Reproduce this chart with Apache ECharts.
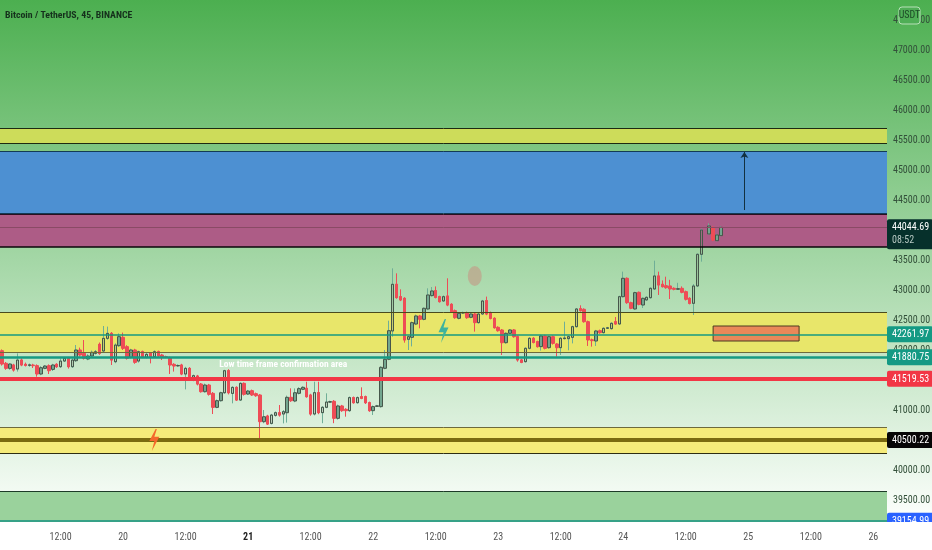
<!DOCTYPE html>
<html><head><meta charset="utf-8">
<style>html,body{margin:0;padding:0;background:#fff}#c{width:932px;height:550px}</style>
<script src="https://cdn.jsdelivr.net/npm/echarts@6/dist/echarts.min.js"></script>
</head><body><div id="c"></div>
<script>
const tickLabels=['12:00','20','12:00','21','12:00','22','12:00','23','12:00','24','12:00','25','12:00','26'];
const opens=[41988,41778,41694,41750,41683,41833,41761,41745,41750,41739,41600,41694,41739,41677,41761,41722,41816,41861,41722,41822,42000,41944,41850,41900,41944,42094,41983,42194,42277,41805,42072,42211,42055,41877,42000,41816,41972,41877,41944,41888,41972,41916,41888,41872,41761,41735,41750,41600,41694,41500,41566,41433,41305,41416,41277,41044,41155,41288,41655,41277,41377,41166,41444,41266,41322,41272,41250,40805,40899,40777,40911,40955,40933,40955,41211,41150,41278,41345,41361,41250,40933,41289,40956,41045,41130,41145,40861,41067,41011,40989,41206,41122,41222,41222,41122,40989,41060,41056,41695,41845,42317,43095,42889,42861,42178,42211,42433,42567,42511,42684,42906,42989,42889,42817,42900,42761,42656,42528,42615,42622,42545,42600,42456,42600,42822,42622,42528,42378,42333,42122,42278,42334,42222,41834,41806,42028,42195,42139,42056,42234,42039,42222,42100,42039,42190,42189,42211,42389,42689,42678,42472,42170,42150,42322,42289,42362,42356,42472,42434,42889,43195,42789,42684,42961,42750,42834,42872,43017,43234,43095,43072,43067,43028,43012,43028,42972,42861,42778,43067,43595,null,43934,44045,43822,43906];
const closes=[41766,41694,41766,41666,41833,41750,41744,41752,41739,41600,41705,41733,41655,41750,41722,41816,41861,41722,41833,42000,41916,41861,41900,41961,41972,41944,42194,42277,41833,42083,42222,42027,41861,42000,41794,41972,41888,41927,41877,41972,41900,41877,41877,41750,41733,41742,41600,41694,41511,41572,41433,41305,41416,41261,41044,41155,41288,41655,41288,41377,41166,41444,41261,41316,41250,41238,40805,40888,40766,40916,40955,40916,40972,41211,41155,41288,41356,41378,41222,40933,41289,40956,41045,41133,41140,40861,41067,40989,40989,41206,41122,41206,41195,41122,40989,41056,41070,41711,41845,42322,43095,42873,42834,42167,42222,42456,42567,42511,42695,42917,42984,42878,42806,42889,42750,42639,42539,42611,42625,42539,42600,42456,42600,42817,42600,42528,42372,42322,42122,42278,42334,42222,41834,41795,42028,42195,42128,42056,42234,42028,42222,42111,42039,42195,42200,42222,42389,42684,42656,42472,42167,42156,42317,42289,42361,42370,42445,42434,42889,43195,42789,42695,42956,42761,42861,42878,43028,43234,43084,43056,43039,43017,43011,43022,42961,42845,42778,43067,43595,44000,null,44067,43834,43917,44045];
const lows=[41740,41670,41670,41640,41640,41730,41725,41720,41700,41555,41580,41680,41600,41650,41700,41700,41800,41690,41700,41800,41890,41840,41830,41880,41925,41920,41960,42170,41750,41780,42050,42000,41840,41860,41770,41790,41865,41860,41777,41870,41885,41833,41865,41600,41640,41720,41580,41344,41490,41480,41410,41290,41290,41240,40933,41030,41140,41270,41260,41111,41150,41150,41240,41250,41235,41220,40527,40780,40750,40760,40890,40890,40777,40790,41135,41130,41260,41330,41205,40905,40910,40930,40780,41030,41120,40780,40840,40970,40889,40970,41105,41105,41180,41100,40970,40917,41050,41040,41680,41830,42222,42855,42815,42122,42000,42060,42415,42361,42495,42665,42890,42860,42790,42800,42730,42620,42520,42510,42600,42520,42530,42306,42440,42585,42580,42510,42355,42305,41917,42105,42265,42205,41805,41780,41790,42010,42110,42040,41990,42010,42020,42090,41889,41917,42175,41995,42110,42375,42640,42455,42067,42056,42067,42270,42275,42350,42340,42420,42420,42875,42770,42680,42670,42745,42700,42820,42855,43000,42917,43040,43020,42850,42995,43000,42945,42825,42760,42584,43050,43472,null,43920,43815,43810,43895];
const highs=[42010,41800,41780,41770,41944,41860,41790,41775,41770,41760,41730,41750,41760,41770,41780,41860,41885,41885,41860,42083,42040,42166,41930,41990,42000,42125,42400,42390,42300,42110,42277,42290,42080,42020,42020,41990,41990,41950,41965,41995,41990,41935,41905,41890,41780,41760,41770,41720,41715,41590,41585,41450,41440,41435,41300,41175,41305,41670,41680,41395,41395,41460,41460,41335,41340,41290,41265,41000,40920,40935,40975,41083,41000,41240,41361,41360,41380,41395,41472,41270,41472,41472,41065,41278,41155,41165,41090,41085,41030,41225,41225,41225,41378,41240,41140,41075,41085,41730,42000,42489,43361,43278,43011,42880,42240,42475,42590,42585,42710,43028,43050,43060,42905,42910,43195,42780,42675,42630,42640,42640,42625,42620,42620,42835,42890,42640,42545,42395,42350,42295,42350,42350,42240,41850,42045,42215,42215,42155,42255,42255,42240,42240,42115,42215,42472,42240,42405,42700,42745,42695,42490,42190,42335,42340,42378,42385,42460,42550,42905,43306,43210,42805,42972,42975,42875,42895,43045,43489,43306,43160,43222,43170,43045,43120,43060,42990,42880,43100,43610,44020,null,44110,44060,43935,44060];

const bandLow=[45450,44283,43717,41967,40283,39133];
const bandHigh=[45700,45317,44267,42633,40717,39650];
const bandFill=['#cddc5a','#4d90d2','#ad5c86','#e8e66a','#f5eb7a','#9ad29c'];
const edgeLowColor=['#1d2a12','#123a55','#0a0608','#6e6a3c','#2e2e12','#159080'];
const edgeHighColor=['#1d2a12','#123a55','#2a1020','#4a4a1e','#6e6a3c','#1d3a28'];
const priceLevels=[44044.69,42261.97,41880.75,41519.53,40500.22,39154.99];
const levelColor=['#8a4a65','#169a82','#169a82','#f23645','#7a6a10','#159080'];
const levelWidth=[1,1.5,2.5,4,4,1.5];
const tagColor=['#06302b','#149a84','#149a84','#f23645','#060606','#2962ff'];
const tagNote=['08:52','','','','',''];

const barCount=227;
const firstTick=15, tickStep=16;
const categories=Array.from({length:barCount},(_,i)=>{
  const k=(i-firstTick)/tickStep;
  return Number.isInteger(k)&&tickLabels[k]?tickLabels[k]:'i'+i;
});
const up='#46564a',down='#ee4c56';
const fullData=opens.map((o,i)=>o==null?['-','-','-','-']:[o,closes[i],lows[i],highs[i]]);
const bodyData=opens.map((o,i)=>o==null?['-','-','-','-']:[o,closes[i],Math.min(o,closes[i]),Math.max(o,closes[i])]);
const F="'Liberation Sans Narrow','Roboto Condensed','Liberation Sans',sans-serif";
const bolt='path://M6 0 L1 11 L5 11 L3 20 L9 7 L5 7 L7 0 Z';
const edge=(p,c,w)=>({yAxis:p,lineStyle:{color:c,width:w,type:'solid'},label:{show:false}});

const chart=echarts.init(document.getElementById('c'),null,{renderer:'canvas',width:932,height:550});
chart.setOption({
  animation:false,
  backgroundColor:{type:'linear',x:0,y:0,x2:0,y2:1,colorStops:[{offset:0,color:'#4caf50'},{offset:0.949,color:'#fdfffd'},{offset:1,color:'#ffffff'}]},
  title:{text:'Bitcoin / TetherUS, 45, BINANCE',left:5,top:11,padding:0,textStyle:{fontFamily:F,fontSize:9.8,fontWeight:'bold',color:'#15301c'}},
  grid:{left:0,width:887,top:-10,height:540,containLabel:false,outerBoundsMode:'none'},
  xAxis:{type:'category',data:categories,boundaryGap:true,z:100,
    axisLine:{show:false},axisTick:{show:false},splitLine:{show:false},
    axisLabel:{interval:i=>(i-firstTick)%tickStep===0&&i>=firstTick,margin:2,hideOverlap:false,
      fontFamily:F,fontSize:10,color:'#555',
      formatter:v=>v==='21'?'{b|21}':v,rich:{b:{fontFamily:F,fontSize:10,fontWeight:'bold',color:'#222'}}}},
  yAxis:{type:'value',position:'right',min:39000,max:48000,interval:500,
    axisLine:{show:false},axisTick:{show:false},splitLine:{show:false},
    axisLabel:{inside:false,margin:6,showMinLabel:false,showMaxLabel:false,fontFamily:F,fontSize:10,color:'#33503a',formatter:v=>v.toFixed(2)}},
  series:[
    {type:'line',name:'levels',data:[],z:2,silent:true,
      markArea:{silent:true,data:bandLow.map((l,i)=>[{yAxis:l,itemStyle:{color:bandFill[i],borderWidth:0}},{yAxis:bandHigh[i]}])},
      markLine:{silent:true,symbol:'none',data:[
        ...bandLow.map((p,i)=>edge(p,edgeLowColor[i],i===2?1.5:1)),
        ...bandHigh.map((p,i)=>edge(p,edgeHighColor[i],1)),
        ...priceLevels.map((p,i)=>({yAxis:p,
        lineStyle:{color:levelColor[i],width:levelWidth[i],type:'solid'},
        label:{show:true,position:'end',distance:0,formatter:()=>p.toFixed(2)+(tagNote[i]?'\n{n|'+tagNote[i]+'}':''),
          offset:tagNote[i]?[0,7]:[0,0],
          backgroundColor:tagColor[i],borderRadius:2,padding:tagNote[i]?[2,4,2,5]:[2,4,1,5],color:'#fff',fontFamily:F,fontSize:10,lineHeight:13,
          rich:{n:{color:'#b7c9c3',fontFamily:F,fontSize:10,lineHeight:13}}}}))]}},
    {type:'candlestick',name:'wicks',data:fullData,z:3,barWidth:2,silent:true,
      itemStyle:{color:'transparent',color0:down,borderColor:'#6fae97',borderColor0:down,borderWidth:1}},
    {type:'candlestick',name:'bodies',data:bodyData,z:4,barWidth:3,silent:true,
      itemStyle:{color:'rgba(125,150,125,0.3)',color0:down,borderColor:up,borderColor0:down,borderWidth:1},
      markArea:{silent:true,data:[[{coord:[182,42400],itemStyle:{color:'rgba(232,128,88,0.92)',borderColor:'#4a3a20',borderWidth:1}},{coord:[204,42150]}]]},
      markLine:{silent:true,symbol:['none','arrow'],symbolSize:6,data:[[{coord:[190,44333],lineStyle:{color:'#123040',width:1,type:'solid'},label:{show:false}},{coord:[190,45300]}]]},
      markPoint:{silent:true,data:[
        {coord:[113,42317],symbol:bolt,symbolSize:[10,24],itemStyle:{color:'#3fb39d'},label:{show:false}},
        {coord:[39,40500],symbol:bolt,symbolSize:[10,22],itemStyle:{color:'#f4682c'},label:{show:false}},
        {coord:[121,43233],symbol:'circle',symbolSize:[14,20],itemStyle:{color:'#bfa48c',opacity:0.75},label:{show:false}},
        {coord:[72,41750],symbol:'circle',symbolSize:1,itemStyle:{color:'transparent'},
          label:{show:true,position:'inside',formatter:()=>'Low time frame confirmation area',color:'#fff',fontFamily:F,fontSize:9.5,fontWeight:'bold'}}
      ]}}
  ],
  graphic:[
    {type:'rect',z:50,silent:true,shape:{x:0,y:522,width:932,height:28},style:{fill:'#fff'}},
    {type:'rect',z:60,silent:true,shape:{x:899,y:7,width:21,height:17,r:3},style:{fill:'#4fae56',stroke:'#b8e0b8',lineWidth:1}},
    {type:'text',z:61,silent:true,style:{x:909.5,y:15.5,text:'USDT',align:'center',verticalAlign:'middle',fill:'#1d4a26',font:"10px "+F}}
  ]
});
</script></body></html>
